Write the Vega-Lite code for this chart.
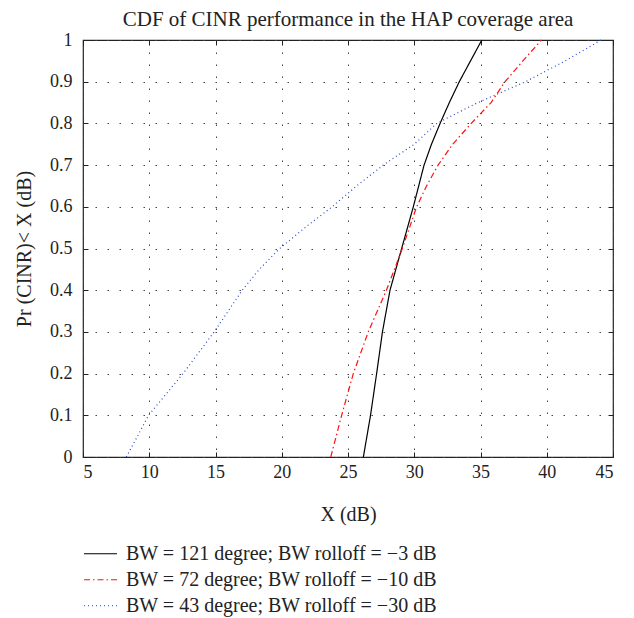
{
  "$schema": "https://vega.github.io/schema/vega-lite/v6.json",
  "width": 530,
  "height": 417,
  "autosize": {"type": "none"},
  "padding": {"left": 83, "top": 40, "right": 21, "bottom": 161},
  "title": {"text": "CDF of CINR performance in the HAP coverage area", "font": "Liberation Serif", "fontSize": 21, "fontWeight": "normal", "color": "#222", "offset": 1},
  "config": {
    "view": {"stroke": "#222", "strokeWidth": 1.2},
    "axis": {
      "labelFont": "Liberation Serif", "labelFontSize": 18, "labelColor": "#222",
      "titleFont": "Liberation Serif", "titleFontSize": 20, "titleFontWeight": "normal", "titleColor": "#222",
      "domain": false, "tickColor": "#222", "tickSize": -5, "tickWidth": 1,
      "gridColor": "#444", "gridDash": [1.5, 10.5], "gridWidth": 1, "gridOpacity": 1
    },
    "legend": {"symbolType": "stroke", "orient": "none", "legendX": 0, "legendY": 501, "symbolSize": 1089, "symbolStrokeWidth": 1.2, "labelFont": "Liberation Serif", "labelFontSize": 20, "labelColor": "#222", "labelOffset": 8, "rowPadding": 0, "clipHeight": 25.5, "padding": 0, "labelLimit": 500}
  },
  "data": {"values": [
    {"s": "BW = 121 degree; BW rolloff = −3 dB", "x": 26.16, "p": 0},
    {"s": "BW = 121 degree; BW rolloff = −3 dB", "x": 26.7, "p": 0.1},
    {"s": "BW = 121 degree; BW rolloff = −3 dB", "x": 27.16, "p": 0.2},
    {"s": "BW = 121 degree; BW rolloff = −3 dB", "x": 27.6, "p": 0.3},
    {"s": "BW = 121 degree; BW rolloff = −3 dB", "x": 28.17, "p": 0.4},
    {"s": "BW = 121 degree; BW rolloff = −3 dB", "x": 29.05, "p": 0.5},
    {"s": "BW = 121 degree; BW rolloff = −3 dB", "x": 29.93, "p": 0.6},
    {"s": "BW = 121 degree; BW rolloff = −3 dB", "x": 30.74, "p": 0.7},
    {"s": "BW = 121 degree; BW rolloff = −3 dB", "x": 31.3, "p": 0.75},
    {"s": "BW = 121 degree; BW rolloff = −3 dB", "x": 31.95, "p": 0.8},
    {"s": "BW = 121 degree; BW rolloff = −3 dB", "x": 32.65, "p": 0.85},
    {"s": "BW = 121 degree; BW rolloff = −3 dB", "x": 33.4, "p": 0.9},
    {"s": "BW = 121 degree; BW rolloff = −3 dB", "x": 34.25, "p": 0.95},
    {"s": "BW = 121 degree; BW rolloff = −3 dB", "x": 35.1, "p": 1.0},
    {"s": "BW = 72 degree; BW rolloff = −10 dB", "x": 23.7, "p": 0},
    {"s": "BW = 72 degree; BW rolloff = −10 dB", "x": 24.52, "p": 0.1},
    {"s": "BW = 72 degree; BW rolloff = −10 dB", "x": 25.4, "p": 0.2},
    {"s": "BW = 72 degree; BW rolloff = −10 dB", "x": 26.53, "p": 0.3},
    {"s": "BW = 72 degree; BW rolloff = −10 dB", "x": 27.9, "p": 0.4},
    {"s": "BW = 72 degree; BW rolloff = −10 dB", "x": 29.1, "p": 0.5},
    {"s": "BW = 72 degree; BW rolloff = −10 dB", "x": 30.18, "p": 0.6},
    {"s": "BW = 72 degree; BW rolloff = −10 dB", "x": 30.93, "p": 0.65},
    {"s": "BW = 72 degree; BW rolloff = −10 dB", "x": 31.8, "p": 0.7},
    {"s": "BW = 72 degree; BW rolloff = −10 dB", "x": 32.9, "p": 0.75},
    {"s": "BW = 72 degree; BW rolloff = −10 dB", "x": 34.3, "p": 0.8},
    {"s": "BW = 72 degree; BW rolloff = −10 dB", "x": 35.8, "p": 0.85},
    {"s": "BW = 72 degree; BW rolloff = −10 dB", "x": 36.85, "p": 0.9},
    {"s": "BW = 72 degree; BW rolloff = −10 dB", "x": 38.2, "p": 0.95},
    {"s": "BW = 72 degree; BW rolloff = −10 dB", "x": 39.6, "p": 1.0},
    {"s": "BW = 43 degree; BW rolloff = −30 dB", "x": 8.27, "p": 0},
    {"s": "BW = 43 degree; BW rolloff = −30 dB", "x": 9.95, "p": 0.1},
    {"s": "BW = 43 degree; BW rolloff = −30 dB", "x": 12.55, "p": 0.2},
    {"s": "BW = 43 degree; BW rolloff = −30 dB", "x": 14.9, "p": 0.3},
    {"s": "BW = 43 degree; BW rolloff = −30 dB", "x": 17.02, "p": 0.4},
    {"s": "BW = 43 degree; BW rolloff = −30 dB", "x": 18.3, "p": 0.45},
    {"s": "BW = 43 degree; BW rolloff = −30 dB", "x": 19.85, "p": 0.5},
    {"s": "BW = 43 degree; BW rolloff = −30 dB", "x": 21.75, "p": 0.55},
    {"s": "BW = 43 degree; BW rolloff = −30 dB", "x": 23.8, "p": 0.6},
    {"s": "BW = 43 degree; BW rolloff = −30 dB", "x": 25.65, "p": 0.65},
    {"s": "BW = 43 degree; BW rolloff = −30 dB", "x": 27.66, "p": 0.7},
    {"s": "BW = 43 degree; BW rolloff = −30 dB", "x": 30.0, "p": 0.75},
    {"s": "BW = 43 degree; BW rolloff = −30 dB", "x": 31.7, "p": 0.8},
    {"s": "BW = 43 degree; BW rolloff = −30 dB", "x": 34.8, "p": 0.85},
    {"s": "BW = 43 degree; BW rolloff = −30 dB", "x": 38.4, "p": 0.9},
    {"s": "BW = 43 degree; BW rolloff = −30 dB", "x": 41.4, "p": 0.95},
    {"s": "BW = 43 degree; BW rolloff = −30 dB", "x": 44.1, "p": 1.0}
  ]},
  "layer": [
    {
      "mark": {"type": "line", "strokeWidth": 1.2},
      "encoding": {
        "x": {"field": "x", "type": "quantitative", "scale": {"domain": [5, 45], "nice": false, "zero": false},
              "axis": {"orient": "bottom", "values": [5, 10, 15, 20, 25, 30, 35, 40, 45], "title": "X (dB)", "labelPadding": 11, "titlePadding": 23}},
        "y": {"field": "p", "type": "quantitative", "scale": {"domain": [0, 1], "nice": false},
              "axis": {"orient": "left", "values": [0, 0.1, 0.2, 0.3, 0.4, 0.5, 0.6, 0.7, 0.8, 0.9, 1], "format": "~g", "title": "Pr (CINR)< X (dB)", "labelPadding": 16, "titlePadding": 15}},
        "color": {"field": "s", "type": "nominal", "title": null,
                  "scale": {"domain": ["BW = 121 degree; BW rolloff = −3 dB", "BW = 72 degree; BW rolloff = −10 dB", "BW = 43 degree; BW rolloff = −30 dB"], "range": ["#000000", "#ff1010", "#2a48cc"]}},
        "strokeDash": {"field": "s", "type": "nominal", "title": null,
                  "scale": {"domain": ["BW = 121 degree; BW rolloff = −3 dB", "BW = 72 degree; BW rolloff = −10 dB", "BW = 43 degree; BW rolloff = −30 dB"], "range": [[1, 0], [6, 3, 1.5, 3], [1, 3]]}}
      }
    },
    {
      "mark": {"type": "line", "opacity": 0},
      "encoding": {
        "x": {"field": "x", "type": "quantitative", "axis": {"orient": "top", "values": [5, 10, 15, 20, 25, 30, 35, 40, 45], "labels": false, "grid": false, "title": null}},
        "y": {"field": "p", "type": "quantitative", "axis": {"orient": "right", "values": [0, 0.1, 0.2, 0.3, 0.4, 0.5, 0.6, 0.7, 0.8, 0.9, 1], "labels": false, "grid": false, "title": null}},
        "detail": {"field": "s"}
      }
    }
  ],
  "resolve": {"axis": {"x": "independent", "y": "independent"}}
}
